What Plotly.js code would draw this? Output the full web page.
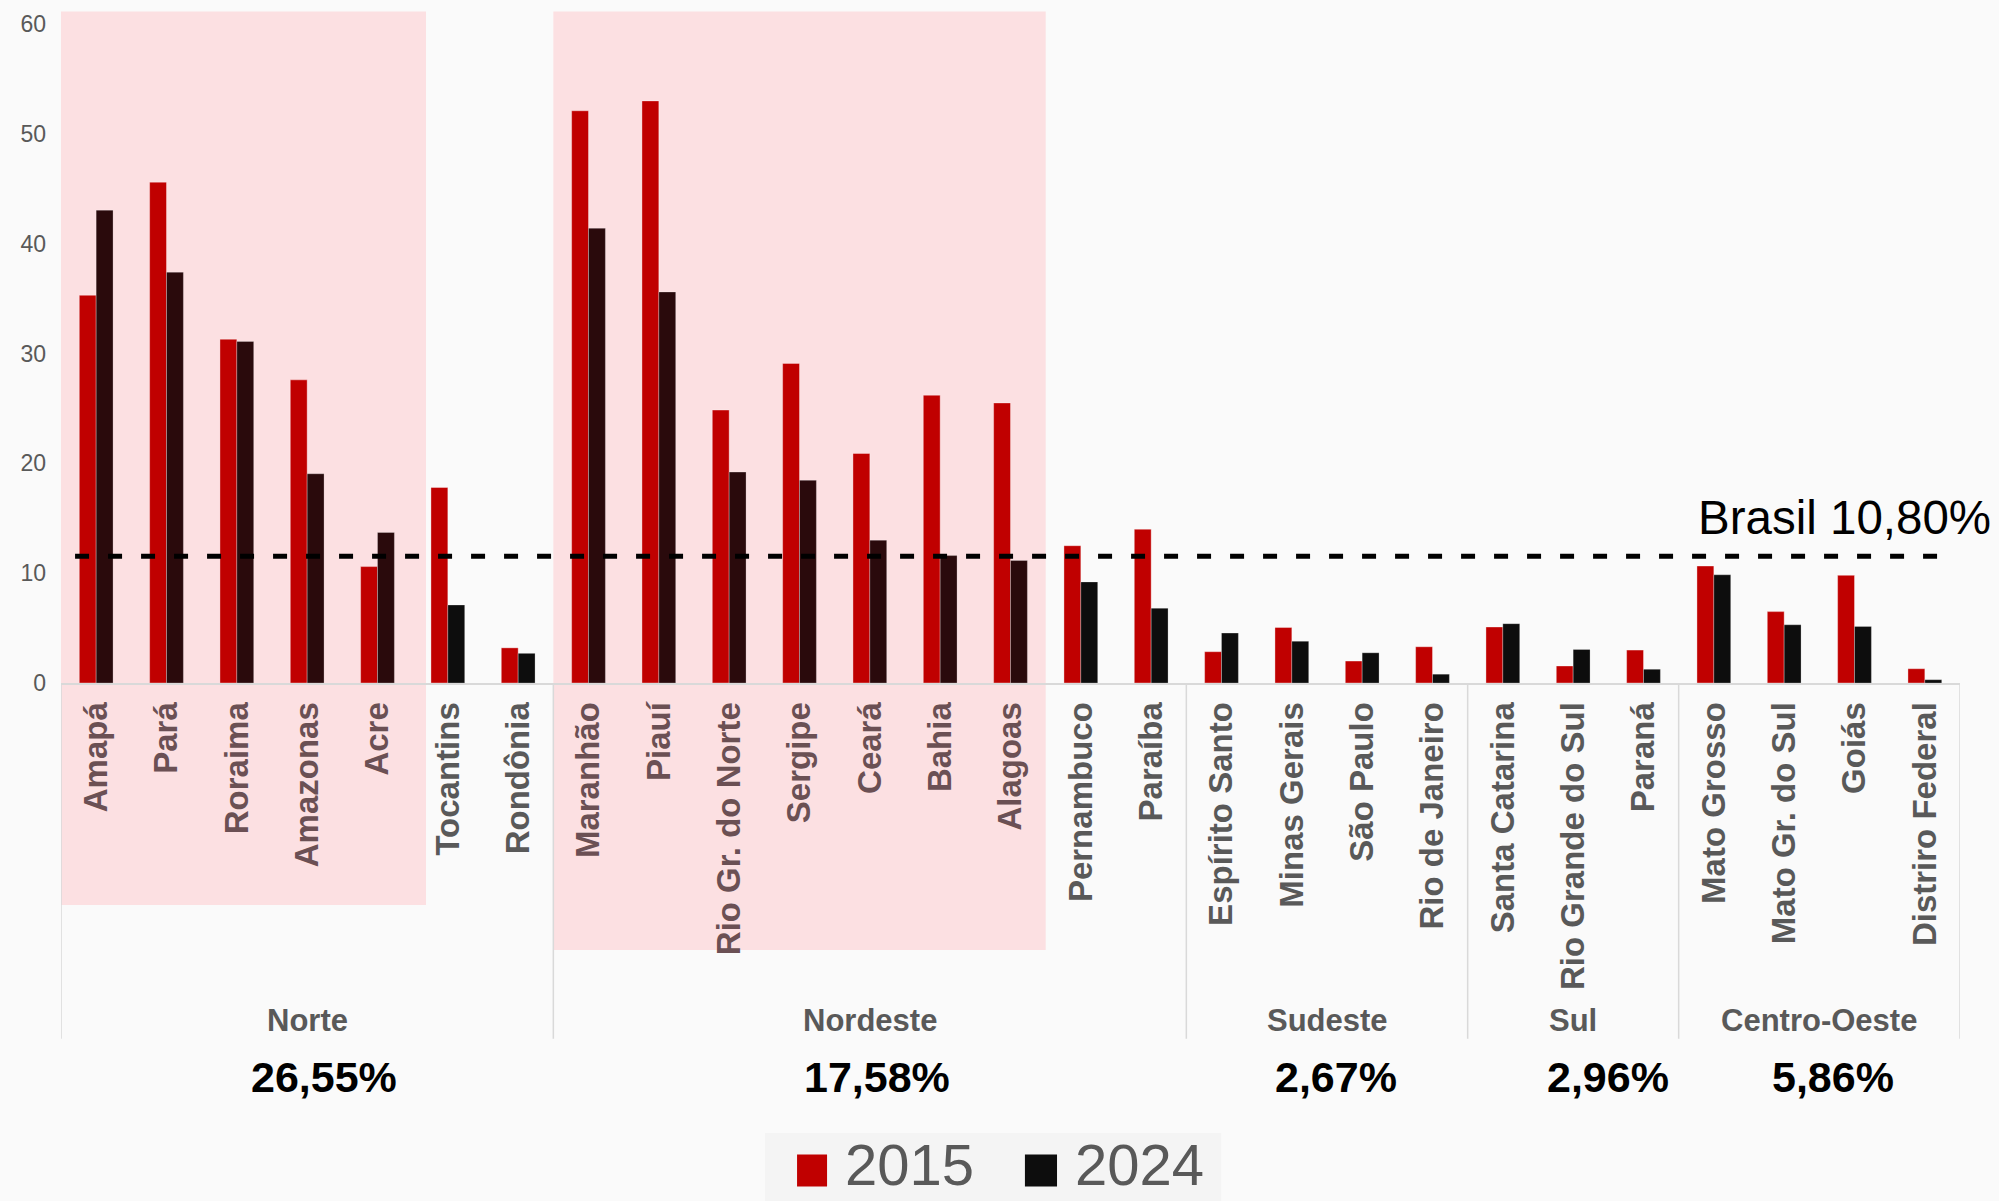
<!DOCTYPE html>
<html>
<head>
<meta charset="utf-8">
<script src="https://cdn.plot.ly/plotly-3.0.1.min.js"></script>
<style>
html,body{margin:0;padding:0;background:#FAFAFA;}
#chart{width:1999px;height:1201px;}
</style>
</head>
<body>
<div id="chart"></div>
<script>
// ---- data ----
const states = ["Amapá","Pará","Roraima","Amazonas","Acre","Tocantins","Rondônia",
  "Maranhão","Piauí","Rio Gr. do Norte","Sergipe","Ceará","Bahia","Alagoas","Pernambuco","Paraíba",
  "Espírito Santo","Minas Gerais","São Paulo","Rio de Janeiro",
  "Santa Catarina","Rio Grande do Sul","Paraná",
  "Mato Grosso","Mato Gr. do Sul","Goiás","Distriro Federal"];
const values2015 = [35.3,45.6,31.3,27.6,10.6,17.8,3.2,
  52.1,53.0,24.85,29.1,20.9,26.2,25.5,12.5,14.0,
  2.85,5.05,2.0,3.3,
  5.1,1.55,3.0,
  10.65,6.5,9.8,1.3];
const values2024 = [43.05,37.4,31.1,19.05,13.7,7.1,2.7,
  41.4,35.6,19.2,18.45,13.0,11.6,11.15,9.2,6.8,
  4.55,3.8,2.75,0.8,
  5.4,3.05,1.25,
  9.85,5.3,5.15,0.3];
const highlighted = [1,1,1,1,1,0,0, 1,1,1,1,1,1,1,0,0, 0,0,0,0, 0,0,0, 0,0,0,0];
const regionNames = ["Norte","Nordeste","Sudeste","Sul","Centro-Oeste"];
const regionSizes = [7,9,4,3,4];
const regionPct = ["26,55%","17,58%","2,67%","2,96%","5,86%"];
const regionPctPos = [3.24,11.1,17.63,21.5,24.7];
const brasilLabel = "Brasil 10,80%";
const brasilLineY = 11.55;
const yTicks = [0,10,20,30,40,50,60];
const legendLabels = ["2015","2024"];

// ---- styles ----
const RED = "#C00000";
const DARK_IN = "#2A0A0C";
const DARK_OUT = "#0D0D0D";
const PINK = "#FCE0E2";
const GREY = "#595959";
const GREY_IN = "#6B5054";
const LINEGREY = "#D9D9D9";
const FONT = "Liberation Sans, Arial, sans-serif";

const ticktext = states.map((s,i)=> highlighted[i] ? '<span style="color:'+GREY_IN+'">'+s+'</span>' : s);

const traces = [
  {type:"bar", name:legendLabels[0], x:states, y:values2015,
   marker:{color:RED, line:{color:"rgba(255,255,255,0.35)", width:1}}, showlegend:false, hoverinfo:"x+y"},
  {type:"bar", name:legendLabels[1], x:states, y:values2024,
   marker:{color:highlighted.map(h=>h?DARK_IN:DARK_OUT), line:{color:"rgba(255,255,255,0.25)", width:1}}, showlegend:false, hoverinfo:"x+y"}
];

const shapes = [];
// pink highlight blocks
shapes.push({type:"rect", layer:"below", xref:"x", yref:"paper", x0:-0.5, x1:4.69, y0:-0.337, y1:1.019, fillcolor:PINK, line:{width:0}});
shapes.push({type:"rect", layer:"below", xref:"x", yref:"paper", x0:6.5, x1:13.5, y0:-0.405, y1:1.019, fillcolor:PINK, line:{width:0}});
// region separators
let acc = -0.5;
const seps = [acc];
regionSizes.forEach(n=>{acc += n; seps.push(acc);});
seps.forEach(sx=>{
  shapes.push({type:"line", layer:"above", xref:"x", yref:"paper", x0:sx, x1:sx, y0:0, y1:-0.54, line:{color:LINEGREY, width:1.5}});
});
// Brasil dashed line
shapes.push({type:"line", layer:"above", xref:"x", yref:"y", x0:-0.3, x1:26.35, y0:brasilLineY, y1:brasilLineY, line:{color:"#000000", width:5, dash:"14px,19px"}});
// legend box and squares
shapes.push({type:"rect", layer:"below", xref:"paper", yref:"paper", x0:0.3707, x1:0.6109, y0:-0.83, y1:-0.683, fillcolor:"#F4F4F4", line:{width:0}});
shapes.push({type:"rect", layer:"above", xref:"paper", yref:"paper", x0:0.3876, x1:0.4034, y0:-0.7639, y1:-0.7153, fillcolor:RED, line:{width:0}});
shapes.push({type:"rect", layer:"above", xref:"paper", yref:"paper", x0:0.5076, x1:0.5245, y0:-0.7639, y1:-0.7153, fillcolor:DARK_OUT, line:{width:0}});

const annotations = [];
// region names
let start = -0.5;
regionNames.forEach((r,i)=>{
  const mid = start + regionSizes[i]/2;
  start += regionSizes[i];
  annotations.push({text:r, xref:"x", yref:"paper", x:mid, y:-0.5114, xanchor:"center", yanchor:"middle", showarrow:false,
    font:{family:FONT, size:31, color:GREY, weight:"bold"}});
  annotations.push({text:regionPct[i], xref:"x", yref:"paper", x:regionPctPos[i], y:-0.598, xanchor:"center", yanchor:"middle", showarrow:false,
    font:{family:FONT, size:43, color:"#000000", weight:"bold"}});
});
annotations.push({text:brasilLabel, xref:"paper", yref:"paper", x:1.0174, y:0.2504, xanchor:"right", yanchor:"middle", showarrow:false,
  font:{family:FONT, size:47.5, color:"#000000"}});
annotations.push({text:legendLabels[0], xref:"paper", yref:"paper", x:0.4118, y:-0.731, xanchor:"left", yanchor:"middle", showarrow:false,
  font:{family:FONT, size:58, color:GREY}});
annotations.push({text:legendLabels[1], xref:"paper", yref:"paper", x:0.5329, y:-0.731, xanchor:"left", yanchor:"middle", showarrow:false,
  font:{family:FONT, size:58, color:GREY}});

const layout = {
  width:1999, height:1201,
  margin:{l:61, r:39, t:24, b:518},
  paper_bgcolor:"#FAFAFA", plot_bgcolor:"rgba(0,0,0,0)",
  font:{family:FONT, color:GREY},
  barmode:"group", bargap:0.52, bargroupgap:0,
  showlegend:false,
  xaxis:{type:"category", tickmode:"array", tickvals:states, ticktext:ticktext, tickangle:-90,
    tickfont:{family:FONT, size:33, color:GREY, weight:"bold"}, showline:true, linecolor:LINEGREY, linewidth:2,
    ticks:"", showgrid:false, zeroline:false, ticklabelstandoff:4, range:[-0.5,26.5], automargin:false},
  yaxis:{range:[0,60], tickmode:"array", tickvals:yTicks, ticktext:yTicks.map(String), showgrid:false, zeroline:false,
    showline:false, ticks:"", tickfont:{family:FONT, size:23, color:GREY}, ticklabelstandoff:14, automargin:false},
  shapes:shapes, annotations:annotations
};

Plotly.newPlot("chart", traces, layout, {staticPlot:true, displayModeBar:false});
</script>
</body>
</html>
